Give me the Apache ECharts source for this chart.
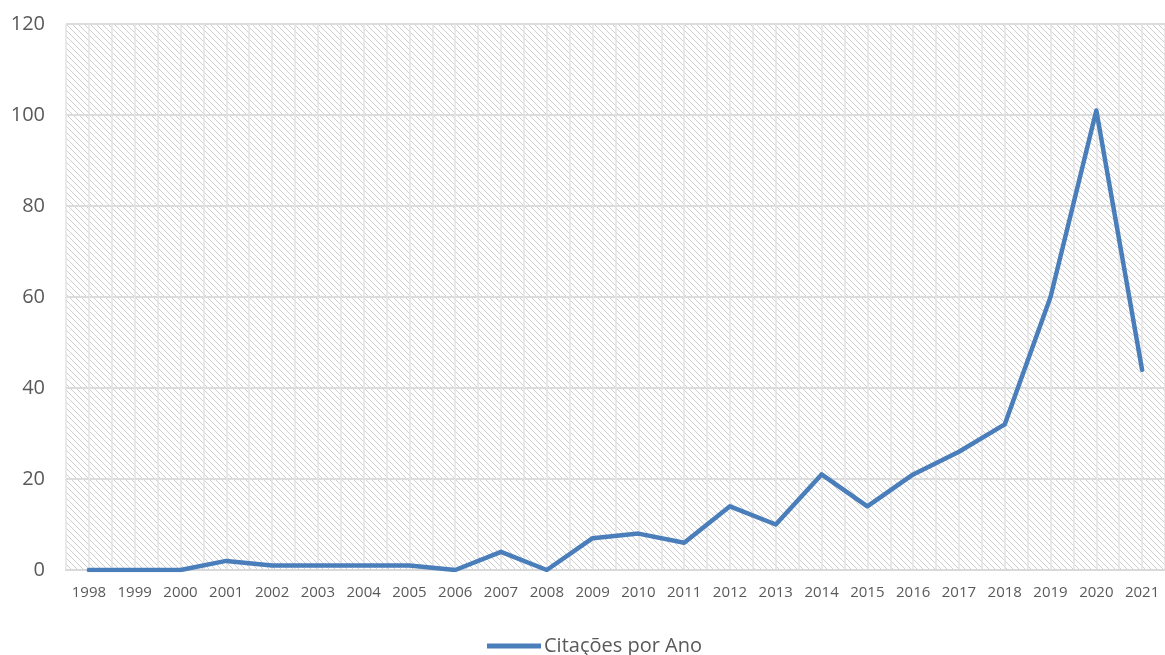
<!DOCTYPE html>
<html>
<head>
<meta charset="utf-8">
<script src="https://cdn.jsdelivr.net/npm/echarts@6/dist/echarts.min.js"></script>
<style>html,body{margin:0;padding:0;background:#fff;}#c{width:1165px;height:655px;}</style>
</head>
<body>
<div id="c"></div>
<script>
const years = ['1998','1999','2000','2001','2002','2003','2004','2005','2006','2007','2008','2009','2010','2011','2012','2013','2014','2015','2016','2017','2018','2019','2020','2021'];
const citations = [0,0,0,2,1,1,1,1,0,4,0,7,8,6,14,10,21,14,21,26,32,60,101,44];
const seriesName = 'Citações por Ano';

// hatch pattern tile
const tile = document.createElement('canvas');
tile.width = 6; tile.height = 6;
const g = tile.getContext('2d');
g.fillStyle = '#ffffff';
g.fillRect(0,0,6,6);
g.strokeStyle = '#cfcfcf';
g.lineWidth = 1;
g.beginPath();
g.moveTo(-1,-1); g.lineTo(7,7);
g.moveTo(-4,2); g.lineTo(4,10);
g.moveTo(2,-4); g.lineTo(10,4);
g.stroke();

const chart = echarts.init(document.getElementById('c'));
chart.setOption({
  animation: false,
  grid: {left: 66, right: -5, top: 24, bottom: 85, show: true, backgroundColor: {image: tile, repeat: 'repeat'}, borderWidth: 0},
  legend: {
    top: 631, left: 482, icon: 'rect', itemWidth: 54, itemHeight: 5, itemGap: 4,
    textStyle: {color: '#595959', fontSize: 20, fontFamily: 'Open Sans, sans-serif', padding: [0,0,0,-2]},
    data: [seriesName]
  },
  xAxis: [{
    type: 'category', data: years, boundaryGap: true,
    axisLine: {lineStyle: {color: '#d9d9d9', width: 2}},
    axisTick: {show: false},
    axisLabel: {color: '#595959', fontSize: 15, margin: 15, fontFamily: 'Open Sans, sans-serif', interval: 0},
    splitLine: {show: false}
  }, {
    type: 'value', min: -0.5, max: 23.5, interval: 0.5, show: true, position: 'bottom',
    axisLine: {show: false}, axisTick: {show: false}, axisLabel: {show: false},
    splitLine: {show: true, lineStyle: {color: '#e3e3e3', width: 1.5}}
  }],
  yAxis: {
    type: 'value', min: 0, max: 120, interval: 20,
    axisLine: {show: false}, axisTick: {show: false},
    axisLabel: {color: '#595959', fontSize: 20, margin: 21, fontFamily: 'Open Sans, sans-serif'},
    splitLine: {lineStyle: {color: '#dcdcdc', width: 2}}
  },
  series: [{
    name: seriesName, type: 'line', data: citations, xAxisIndex: 0,
    symbol: 'none', lineStyle: {color: '#4a7ebb', width: 4.5, cap: 'round', join: 'round'}, itemStyle: {color: '#4a7ebb'}
  }]
});
</script>
</body>
</html>
